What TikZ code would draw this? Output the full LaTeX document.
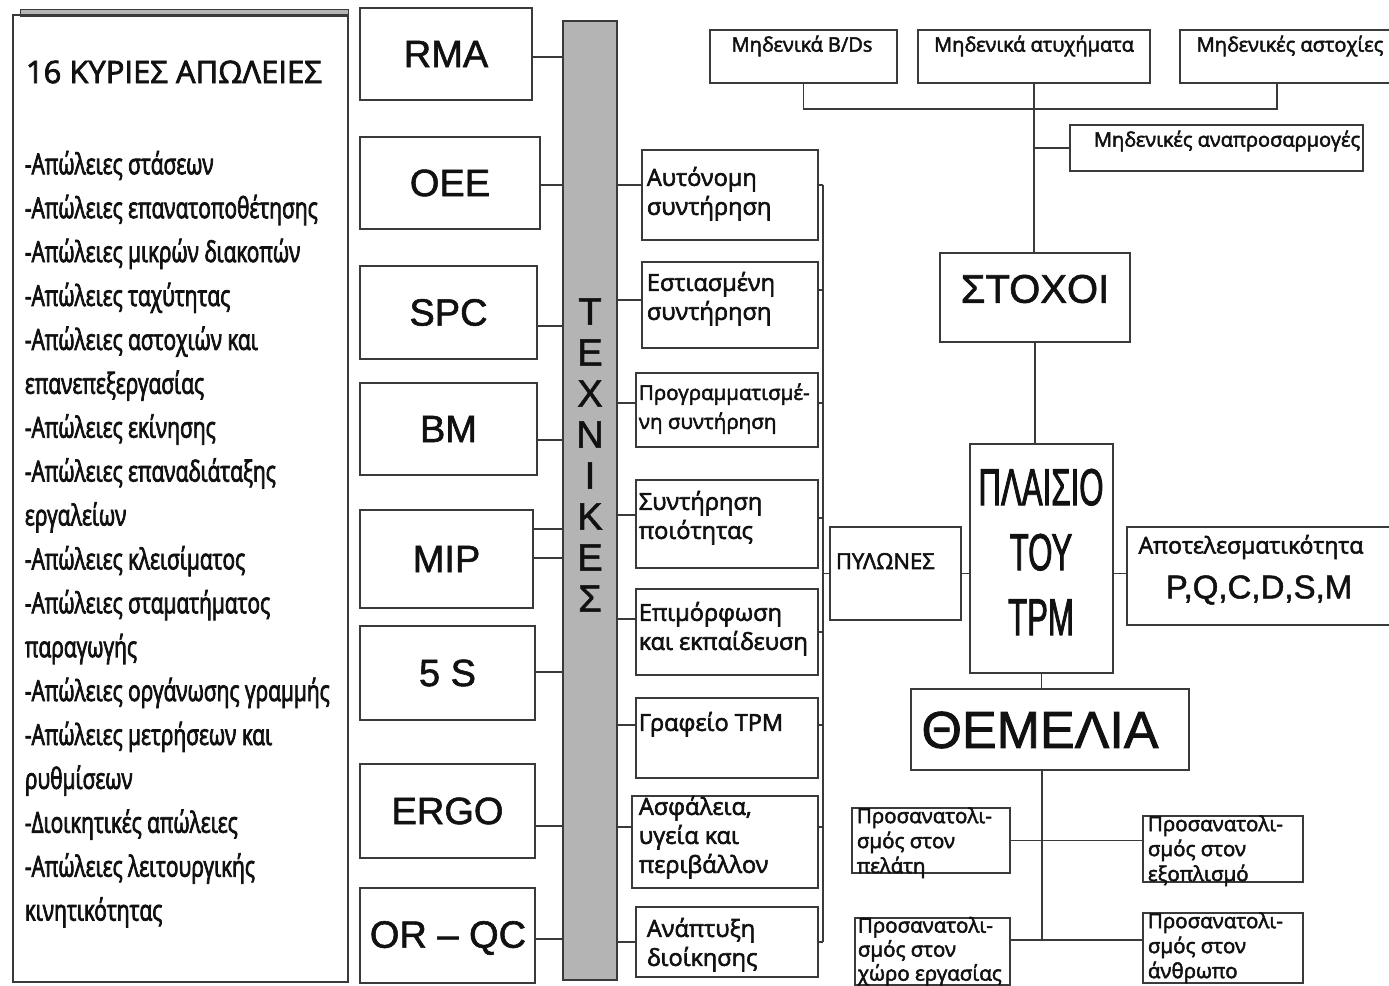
\documentclass[tikz,border=0pt]{standalone}
\usepackage{fontspec}
\setmainfont{Open Sans}[FakeBold=2.5]
\newfontfamily\arialfont{Liberation Sans}[FakeBold=1.5]
\newfontfamily\narrowfont[FakeStretch=0.6, FakeBold=1.5]{Liberation Sans}
\newfontfamily\condfont[FakeStretch=0.72, FakeBold=2.5]{Open Sans}
\usetikzlibrary{positioning}
\definecolor{linegray}{HTML}{3A3A3A}
\definecolor{bargray}{HTML}{B4B4B4}
\definecolor{ink}{HTML}{111111}

\begin{document}
\begin{tikzpicture}[x=1pt, y=-1pt, line width=1.8pt, linegray,
  box/.style={draw=linegray, inner sep=0pt, text=ink},
  tech/.style={box, font=\arialfont\fontsize{38}{44}\selectfont},
  txt/.style={inner sep=0pt, anchor=north west, align=left, text=ink, font=\fontsize{23.5}{29}\selectfont},
  lbl/.style={inner sep=0pt, text=ink, font=\fontsize{20}{24}\selectfont}]
  \useasboundingbox (0,0) rectangle (1389,985);
  \fill[white] (0,0) rectangle (1389,985);
  % losses
  \filldraw[fill=bargray, line width=1pt] (20,9) rectangle (348,16);
  \node[box, minimum width=335, minimum height=967] (losses) at (180.5,498.5) {};
  \node[inner sep=0pt, anchor=west, text=ink, font=\fontsize{31}{36}\selectfont] (losstitle) at (25,72) {16 ΚΥΡΙΕΣ ΑΠΩΛΕΙΕΣ};
  \node[txt, font=\condfont\fontsize{29}{43.9}\selectfont] (losslist) at (24,150) {-Απώλειες στάσεων\\-Απώλειες επανατοποθέτησης\\-Απώλειες μικρών διακοπών\\-Απώλειες ταχύτητας\\-Απώλειες αστοχιών και\\επανεπεξεργασίας\\-Απώλειες εκίνησης\\-Απώλειες επαναδιάταξης\\εργαλείων\\-Απώλειες κλεισίματος\\-Απώλειες σταματήματος\\παραγωγής\\-Απώλειες οργάνωσης γραμμής\\-Απώλειες μετρήσεων και\\ρυθμίσεων\\-Διοικητικές απώλειες\\-Απώλειες λειτουργικής\\κινητικότητας};
  % techniques
  \node[tech, minimum width=172, minimum height=92] (rma) at (446,54) {RMA};
  \node[tech, minimum width=180, minimum height=92] (oee) at (450,183) {OEE};
  \node[tech, minimum width=177, minimum height=93] (spc) at (448.5,312.5) {SPC};
  \node[tech, minimum width=177, minimum height=92] (bm) at (448.5,429) {BM};
  \node[tech, minimum width=173, minimum height=98] (mip) at (446.5,559) {MIP};
  \node[tech, minimum width=175, minimum height=94] (fives) at (447.5,673) {5 S};
  \node[tech, minimum width=175, minimum height=94] (ergo) at (447.5,811) {ERGO};
  \node[tech, minimum width=175, minimum height=95] (orqc) at (447.5,935.5) {};
  \node[inner sep=0pt, text=ink, font=\arialfont\fontsize{38}{44}\selectfont] (orqct) at (448,938) {OR – QC};
  \node[fill=bargray, draw=linegray, minimum width=54, minimum height=959, inner sep=0pt] (bar) at (590,500.5) {};
  \node[align=center, inner sep=0pt, text=ink, font=\arialfont\fontsize{38}{41}\selectfont] (texnikes) at (590,455) {Τ\\Ε\\Χ\\Ν\\Ι\\Κ\\Ε\\Σ};
  \foreach \n/\y in {rma/57, oee/185, spc/326, bm/440, mip/529, mip/558, fives/672, ergo/826, orqc/939}
    \draw (\n.east |- 0,\y) -- (bar.west |- 0,\y);
  % pillars
  \node[box, minimum width=176, minimum height=90] (aut) at (730,195) {};
  \node[box, minimum width=176, minimum height=86] (est) at (730,305) {};
  \node[box, minimum width=182, minimum height=74] (prog) at (727,410) {};
  \node[box, minimum width=182, minimum height=88] (synt) at (727,524) {};
  \node[box, minimum width=182, minimum height=86] (epim) at (727,632) {};
  \node[box, minimum width=182, minimum height=80] (graf) at (727,738) {};
  \node[box, minimum width=186, minimum height=92] (asf) at (725,842) {};
  \node[box, minimum width=182, minimum height=70] (anap) at (727,942) {};
  \node[txt] (autt) at (646,166) {Αυτόνομη\\συντήρηση};
  \node[txt] (estt) at (646,271) {Εστιασμένη\\συντήρηση};
  \node[txt, font=\fontsize{20.5}{29}\selectfont] (progt) at (638,382.5) {Προγραμματισμέ-\\νη συντήρηση};
  \node[txt] (syntt) at (638,490) {Συντήρηση\\ποιότητας};
  \node[txt] (epimt) at (638,601) {Επιμόρφωση\\και εκπαίδευση};
  \node[txt] (graft) at (638,711) {Γραφείο TPM};
  \node[txt] (asft) at (638,795) {Ασφάλεια,\\υγεία και\\περιβάλλον};
  \node[txt] (anapt) at (646,917) {Ανάπτυξη\\διοίκησης};
  \coordinate (bus) at (823,0);
  \foreach \n/\yl/\yr in {aut/185/185, est/300/290, prog/403/403, synt/515/518, epim/619/632, graf/725/725, asf/827/827, anap/942/942} {
    \draw (bar.east |- 0,\yl) -- (\n.west |- 0,\yl);
    \draw (\n.east |- 0,\yr) -- (bus |- 0,\yr);
  }
  \draw (bus |- 0,185) -- (bus |- 0,942);
  % goals
  \node[box, minimum width=187, minimum height=53] (zbd) at (803.5,56.5) {};
  \node[box, minimum width=232, minimum height=53] (zacc) at (1034,56.5) {};
  \node[box, minimum width=212, minimum height=53] (zdef) at (1286,56.5) {};
  \node[box, minimum width=293, minimum height=46] (zadj) at (1216.5,148) {};
  \node[lbl] (zbdt) at (802,46) {Μηδενικά B/Ds};
  \node[lbl] (zacct) at (1034,46) {Μηδενικά ατυχήματα};
  \node[lbl] (zdeft) at (1290,46) {Μηδενικές αστοχίες};
  \node[lbl] (zadjt) at (1227,141) {Μηδενικές αναπροσαρμογές};
  \draw (zbd.south) -- ++(0,25) -| ([xshift=-9]zdef.south);
  \draw (zacc.south) -- (zacc.south |- 0,253);
  \draw (zacc.south |- zadj.west) -- (zadj.west);
  \node[box, minimum width=190, minimum height=89] (stoxoi) at (1035,297.5) {};
  \node[inner sep=0pt, text=ink, font=\arialfont\fontsize{40}{44}\selectfont] (stoxoit) at (1035,289) {ΣΤΟΧΟΙ};
  % framework
  \node[box, minimum width=143, minimum height=229] (plaisio) at (1041.5,558.5) {};
  \node[inner sep=0pt, align=center, text=ink, font=\narrowfont\fontsize{52}{65}\selectfont] (plaisiot) at (1041,552) {ΠΛΑΙΣΙΟ\\ΤΟΥ\\TPM};
  \draw (stoxoi.south) -- (stoxoi.south |- plaisio.north);
  \node[box, minimum width=131, minimum height=93] (pyl) at (895.5,573.5) {};
  \node[lbl, anchor=west, font=\fontsize{22}{26}\selectfont] (pylt) at (835,561) {ΠΥΛΩΝΕΣ};
  \node[box, minimum width=265, minimum height=98] (apot) at (1259.5,576) {};
  \node[lbl, font=\fontsize{23}{27}\selectfont] (apott) at (1251,547) {Αποτελεσματικότητα};
  \node[lbl, font=\arialfont\fontsize{33}{38}\selectfont] (pqcdsm) at (1259,590) {P,Q,C,D,S,M};
  \draw (bus |- pyl.west) -- (pyl.west);
  \draw (pyl.east) -- (pyl.east -| plaisio.west);
  \draw (plaisio.east |- pyl.east) -- (apot.west |- pyl.east);
  % foundations
  \node[box, minimum width=278, minimum height=81] (themelia) at (1050,729.5) {};
  \node[lbl, font=\arialfont\fontsize{52}{56}\selectfont] (themeliat) at (1040,730) {ΘΕΜΕΛΙΑ};
  \draw (plaisio.south) -- (plaisio.south |- themelia.north);
  \node[box, minimum width=158, minimum height=65] (o1) at (931,840.5) {};
  \node[box, minimum width=160, minimum height=66] (o2) at (1223,849) {};
  \node[box, minimum width=155, minimum height=67] (o3) at (932.5,951.5) {};
  \node[box, minimum width=160, minimum height=70] (o4) at (1223,948) {};
  \node[txt, font=\fontsize{20.5}{25}\selectfont] (o1t) at (856,806.5) {Προσανατολι-\\σμός στον\\πελάτη};
  \node[txt, font=\fontsize{20.5}{25}\selectfont] (o2t) at (1147,814.5) {Προσανατολι-\\σμός στον\\εξοπλισμό};
  \node[txt, font=\fontsize{20.5}{24}\selectfont] (o3t) at (857,916) {Προσανατολι-\\σμός στον\\χώρο εργασίας};
  \node[txt, font=\fontsize{20.5}{25}\selectfont] (o4t) at (1147,911.5) {Προσανατολι-\\σμός στον\\άνθρωπο};
  \coordinate (fbot) at (1042,940);
  \draw (themelia.south -| fbot) -- (fbot);
  \draw (o1.east) -- (o1.east -| o2.west);
  \draw (o3.east |- fbot) -- (o4.west |- fbot);
\end{tikzpicture}
\end{document}
